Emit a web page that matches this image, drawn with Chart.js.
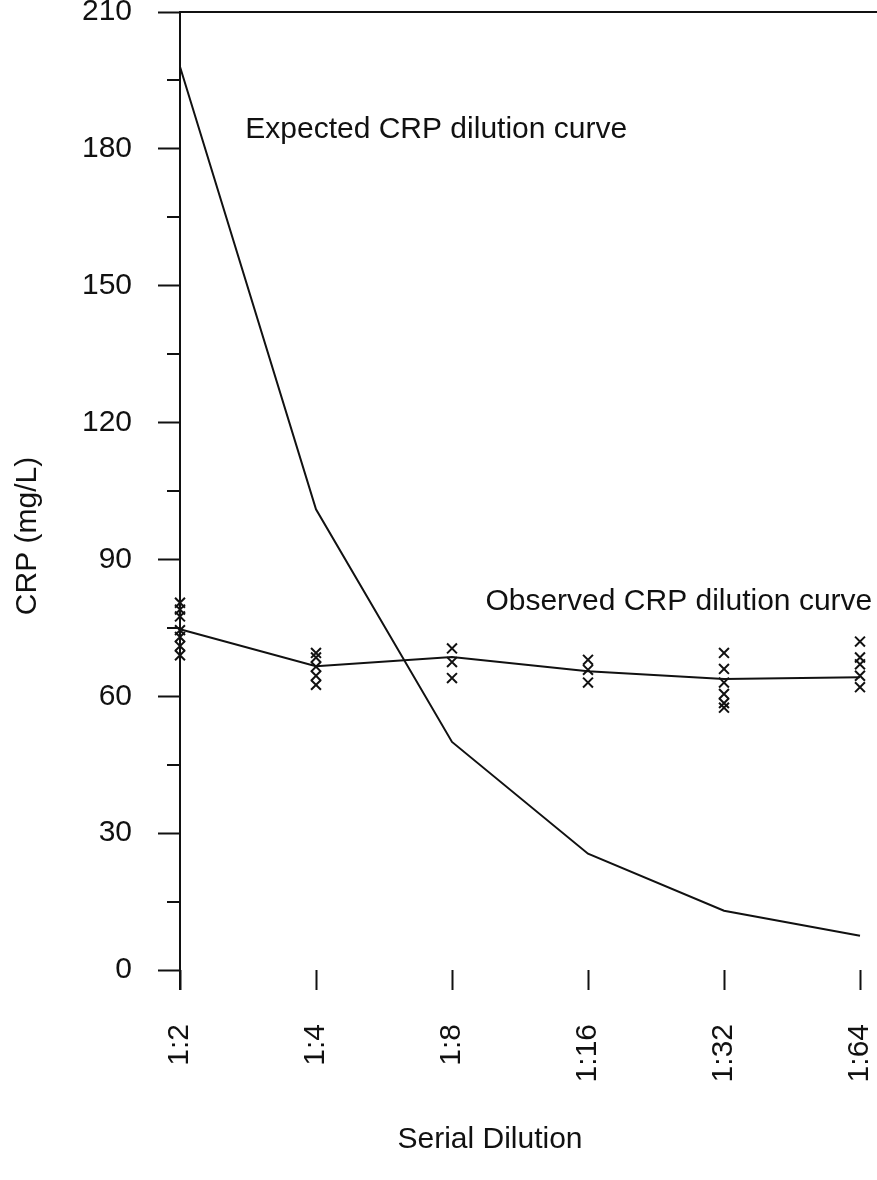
<!DOCTYPE html>
<html>
<head>
<meta charset="utf-8">
<title>CRP serial dilution</title>
<script src="https://cdn.jsdelivr.net/npm/chart.js@4.4.1/dist/chart.umd.min.js"></script>
<style>
  html, body { margin: 0; padding: 0; background: #fff; overflow: hidden; }
  canvas { display: block; }
</style>
</head>
<body>
<canvas id="crpChart" width="877" height="1180"></canvas>
<script>
// Dilution steps along the x axis
const dilutions = ['1:2', '1:4', '1:8', '1:16', '1:32', '1:64'];

// Expected CRP (mg/L) if the sample diluted linearly
const expectedCrp = [198, 101, 50, 25.5, 13, 7.5];

// Observed curve (mean of replicates) and the individual replicates
const observedCrp = [74.7, 66.6, 68.6, 65.5, 63.8, 64.2];
const observedReplicates = [
    [80.5, 79, 77.5, 74.5, 73, 71, 69],
    [69.5, 68.5, 66.5, 64.5, 62.5],
    [70.5, 67.5, 64],
    [68, 65.8, 63],
    [69.5, 66, 63, 60.5, 58.5, 57.5],
    [72, 68.5, 67, 64.5, 62]
];

// Y axis ticks: labelled every 30, short ticks in between
const yMajorTicks = [0, 30, 60, 90, 120, 150, 180, 210];
const yMinorTicks = [15, 45, 75, 105, 135, 165, 195];

const INK = '#111';
const FONT = '"Liberation Sans", Arial, Helvetica, sans-serif';

// Flatten the replicates into scatter points
const replicatePoints = [];
observedReplicates.forEach((reps, i) => {
    reps.forEach(v => replicatePoints.push({ x: i, y: v }));
});

// Extra drawing: minor ticks, axis extension, curve labels and axis titles
const framePlugin = {
    id: 'frame',
    afterDraw(chart) {
        const ctx = chart.ctx;
        const x = chart.scales.x;
        const y = chart.scales.y;
        const area = chart.chartArea;
        ctx.save();
        ctx.strokeStyle = INK;
        ctx.lineWidth = 2;

        // y axis line continues down to the end of the x ticks
        ctx.beginPath();
        ctx.moveTo(area.left, area.bottom);
        ctx.lineTo(area.left, area.bottom + x.options.grid.tickLength);
        ctx.stroke();

        // short minor ticks
        yMinorTicks.forEach(v => {
            const py = Math.round(y.getPixelForValue(v));
            ctx.beginPath();
            ctx.moveTo(area.left - 13, py);
            ctx.lineTo(area.left, py);
            ctx.stroke();
        });

        ctx.fillStyle = INK;
        ctx.font = '30px ' + FONT;
        ctx.textBaseline = 'alphabetic';

        // curve labels
        ctx.textAlign = 'left';
        ctx.fillText('Expected CRP dilution curve', x.getPixelForValue(0.48), y.getPixelForValue(182.4));
        ctx.textAlign = 'right';
        ctx.fillText('Observed CRP dilution curve', x.getPixelForValue(5.09), y.getPixelForValue(78.9));

        // axis titles
        ctx.textAlign = 'center';
        ctx.textBaseline = 'middle';
        ctx.fillText('Serial Dilution', 490, 1140);
        ctx.translate(28, 536);
        ctx.rotate(-Math.PI / 2);
        ctx.fillText('CRP (mg/L)', 0, 0);
        ctx.restore();
    }
};

const chartConfig = {
    data: {
        datasets: [
            {
                type: 'line',
                label: 'Expected CRP dilution curve',
                data: expectedCrp.map((v, i) => ({ x: i, y: v })),
                borderColor: INK,
                borderWidth: 2,
                pointRadius: 0,
                tension: 0,
                fill: false
            },
            {
                type: 'line',
                label: 'Observed CRP dilution curve',
                data: observedCrp.map((v, i) => ({ x: i, y: v })),
                borderColor: INK,
                borderWidth: 2,
                pointRadius: 0,
                tension: 0,
                fill: false
            },
            {
                type: 'scatter',
                label: 'Replicates',
                data: replicatePoints,
                pointStyle: 'crossRot',
                pointRadius: 7,
                borderColor: INK,
                borderWidth: 2
            }
        ]
    },
    options: {
        responsive: false,
        animation: false,
        clip: false,
        layout: {
            autoPadding: false,
            padding: { top: 12, right: 0, left: 0, bottom: 0 }
        },
        plugins: {
            legend: { display: false },
            tooltip: { enabled: false }
        },
        scales: {
            x: {
                type: 'linear',
                position: 'bottom',
                min: 0,
                max: 5.125,
                afterBuildTicks: axis => {
                    axis.ticks = dilutions.map((_, i) => ({ value: i }));
                },
                afterFit: axis => {
                    axis.height = 210;
                    axis.paddingLeft = 0;
                    axis.paddingRight = 0;
                },
                border: { display: false },
                grid: {
                    drawOnChartArea: false,
                    drawTicks: true,
                    tickLength: 20,
                    tickWidth: 2,
                    tickColor: INK
                },
                ticks: {
                    minRotation: 90,
                    maxRotation: 90,
                    padding: 34,
                    color: INK,
                    font: { family: FONT, size: 30 },
                    callback: value => dilutions[value]
                }
            },
            top: {
                type: 'linear',
                position: 'top',
                min: 0,
                max: 5.125,
                afterFit: axis => {
                    axis.height = 0;
                    axis.paddingLeft = 0;
                    axis.paddingRight = 0;
                },
                border: { display: true, color: INK, width: 2 },
                grid: { display: false },
                ticks: { display: false }
            },
            y: {
                type: 'linear',
                position: 'left',
                min: 0,
                max: 210,
                afterBuildTicks: axis => {
                    axis.ticks = yMajorTicks.map(v => ({ value: v }));
                },
                afterFit: axis => {
                    axis.width = 180;
                    axis.paddingTop = 0;
                    axis.paddingBottom = 0;
                },
                border: { display: true, color: INK, width: 2 },
                grid: {
                    drawOnChartArea: false,
                    tickLength: 22,
                    tickWidth: 2,
                    tickColor: INK
                },
                ticks: {
                    padding: 26,
                    color: INK,
                    font: { family: FONT, size: 30 }
                }
            }
        }
    },
    plugins: [framePlugin]
};

const ctx = document.getElementById('crpChart').getContext('2d');
const crpChart = new Chart(ctx, chartConfig);
</script>
</body>
</html>
